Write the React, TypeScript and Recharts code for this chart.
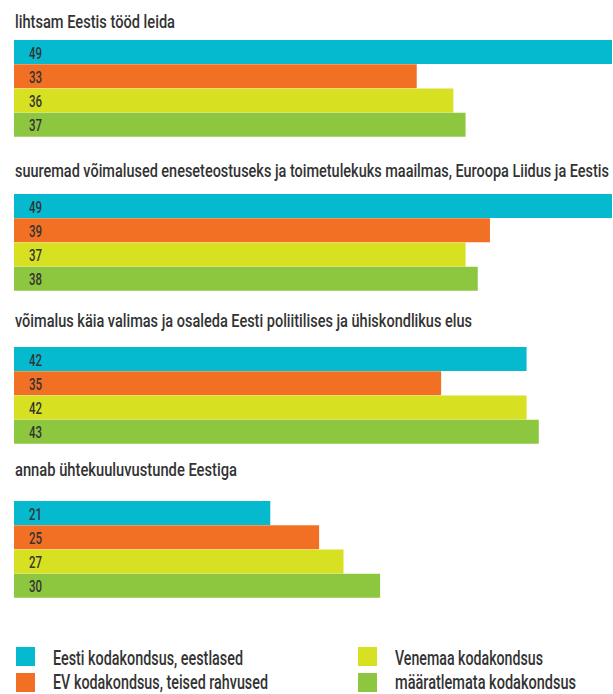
import React from "react";
import { BarChart, Bar, XAxis, YAxis, Cell, LabelList } from "recharts";

const groupTitles = [
  "lihtsam Eestis tööd leida",
  "suuremad võimalused eneseteostuseks ja toimetulekuks maailmas, Euroopa Liidus ja Eestis",
  "võimalus käia valimas ja osaleda Eesti poliitilises ja ühiskondlikus elus",
  "annab ühtekuuluvustunde Eestiga",
];
const seriesNames = [
  "Eesti kodakondsus, eestlased",
  "EV kodakondsus, teised rahvused",
  "Venemaa kodakondsus",
  "määratlemata kodakondsus",
];
const seriesColors = ["#05B9CF", "#F27024", "#D7E021", "#8DC63F"];
const eestlased = [49, 49, 42, 21];
const evTeised = [33, 39, 35, 25];
const venemaa = [36, 37, 42, 27];
const maaratlemata = [37, 38, 43, 30];
const seriesValues = [eestlased, evTeised, venemaa, maaratlemata];

// layout
const groupTops = [40, 194, 347, 501];
const groupHeight = 97;
const titleBaselines = [28, 177, 327, 476];
const titleWidths = [160, 594, 457, 222];
const legendX = [16, 16, 358, 358];
const legendY = [647, 673, 647, 673];
const legendBaselines = [665, 689, 665, 689];
const legendWidths = [190, 215, 148, 181];

const TITLE_SIZE = 14;
const TITLE_STRETCH = 1.3;
const LEGEND_SIZE = 14.5;
const LEGEND_STRETCH = 1.35;

const FONT = "Roboto, 'DejaVu Sans Condensed', 'Liberation Sans Narrow', sans-serif";
const TEXT_COLOR = "#333333";

const renderLabel = (props: any) => {
  const { x, y, height, value } = props;
  const s = String(value);
  return (
    <text
      x={Number(x) + 15}
      y={Number(y) + Number(height) / 2 + 1}
      dominantBaseline="central"
      fontFamily={FONT}
      fontWeight={500}
      fontSize={16}
      fill={TEXT_COLOR}
      textLength={s.length * 6.5}
      lengthAdjust="spacingAndGlyphs"
    >
      {s}
    </text>
  );
};

export default function App() {
  return (
    <div
      style={{
        position: "absolute",
        left: 0,
        top: 0,
        width: 613,
        height: 694,
        background: "#ffffff",
        overflow: "hidden",
      }}
    >
      {groupTitles.map((title, gi) => {
        const data = seriesNames.map((name, si) => ({
          name,
          value: seriesValues[si][gi],
        }));
        return (
          <div
            key={title}
            style={{ position: "absolute", left: 0, top: groupTops[gi] }}
          >
            <BarChart
              width={613}
              height={groupHeight}
              data={data}
              layout="vertical"
              barCategoryGap={0}
              margin={{ top: 0, right: 1, bottom: 0, left: 14 }}
            >
              <XAxis type="number" domain={[0, 49]} hide allowDataOverflow />
              <YAxis type="category" dataKey="name" hide />
              <Bar dataKey="value" isAnimationActive={false}>
                {data.map((d, i) => (
                  <Cell key={d.name} fill={seriesColors[i]} />
                ))}
                <LabelList dataKey="value" content={renderLabel} />
              </Bar>
            </BarChart>
          </div>
        );
      })}
      <svg
        width={613}
        height={694}
        style={{ position: "absolute", left: 0, top: 0, pointerEvents: "none" }}
      >
        {groupTitles.map((title, gi) => (
          <text
            key={title}
            x={15}
            y={titleBaselines[gi] / TITLE_STRETCH}
            transform={`scale(1, ${TITLE_STRETCH})`}
            fontFamily={FONT}
            fontWeight={500}
            fontSize={TITLE_SIZE}
            fill={TEXT_COLOR}
            textLength={titleWidths[gi]}
            lengthAdjust="spacingAndGlyphs"
          >
            {title}
          </text>
        ))}
        {seriesNames.map((name, si) => (
          <g key={name}>
            <rect
              x={legendX[si]}
              y={legendY[si]}
              width={19}
              height={19}
              fill={seriesColors[si]}
            />
            <text
              x={legendX[si] + 37}
              y={legendBaselines[si] / LEGEND_STRETCH}
              transform={`scale(1, ${LEGEND_STRETCH})`}
              fontFamily={FONT}
              fontWeight={500}
              fontSize={LEGEND_SIZE}
              fill={TEXT_COLOR}
              textLength={legendWidths[si]}
              lengthAdjust="spacingAndGlyphs"
            >
              {name}
            </text>
          </g>
        ))}
      </svg>
    </div>
  );
}
